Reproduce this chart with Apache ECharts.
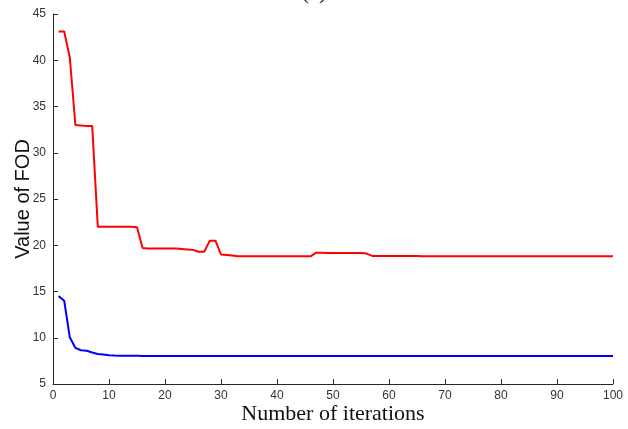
<!DOCTYPE html>
<html>
<head>
<meta charset="utf-8">
<script src="https://cdn.jsdelivr.net/npm/echarts@6/dist/echarts.min.js"></script>
<style>html,body{margin:0;padding:0;background:#fff}#c{width:628px;height:429px}</style>
</head>
<body>
<div id="c"></div>
<script>
const iterations = Array.from({length: 100}, (_, i) => i + 1);
const redValues = [
  43.1, 43.1, 40.3, 33.0, 32.95, 32.9, 32.9, 22.0, 22.0, 22.0,
  22.0, 22.0, 22.0, 22.0, 21.95, 19.7, 19.65, 19.65, 19.65, 19.65,
  19.65, 19.65, 19.6, 19.55, 19.5, 19.3, 19.3, 20.5, 20.5, 19.0,
  18.95, 18.9, 18.8, 18.8, 18.8, 18.8, 18.8, 18.8, 18.8, 18.8,
  18.8, 18.8, 18.8, 18.8, 18.8, 18.8, 19.2, 19.2, 19.15, 19.15,
  19.15, 19.15, 19.15, 19.15, 19.15, 19.1, 18.85, 18.85, 18.85, 18.85,
  18.85, 18.85, 18.85, 18.85, 18.85, 18.8, 18.8, 18.8, 18.8, 18.8,
  18.8, 18.8, 18.8, 18.8, 18.8, 18.8, 18.8, 18.8, 18.8, 18.8,
  18.8, 18.8, 18.8, 18.8, 18.8, 18.8, 18.8, 18.82, 18.82, 18.8,
  18.8, 18.8, 18.8, 18.8, 18.8, 18.8, 18.8, 18.8, 18.8, 18.8
];
const blueValues = [
  14.5, 14.0, 10.05, 8.9, 8.65, 8.6, 8.4, 8.25, 8.2, 8.1,
  8.07, 8.06, 8.05, 8.05, 8.05, 8.04, 8.04, 8.04, 8.04, 8.04,
  8.03, 8.03, 8.03, 8.03, 8.03, 8.03, 8.03, 8.03, 8.03, 8.03,
  8.03, 8.03, 8.03, 8.03, 8.03, 8.03, 8.03, 8.03, 8.03, 8.03,
  8.03, 8.03, 8.03, 8.03, 8.03, 8.03, 8.03, 8.03, 8.03, 8.03,
  8.03, 8.03, 8.03, 8.03, 8.03, 8.03, 8.03, 8.03, 8.03, 8.03,
  8.03, 8.03, 8.03, 8.03, 8.03, 8.03, 8.03, 8.03, 8.03, 8.03,
  8.03, 8.03, 8.03, 8.03, 8.03, 8.03, 8.03, 8.03, 8.03, 8.03,
  8.03, 8.03, 8.03, 8.03, 8.03, 8.03, 8.03, 8.03, 8.03, 8.03,
  8.03, 8.03, 8.03, 8.03, 8.03, 8.03, 8.03, 8.03, 8.03, 8.03
];
const xTicks = [0, 10, 20, 30, 40, 50, 60, 70, 80, 90, 100];
const yTicks = [5, 10, 15, 20, 25, 30, 35, 40, 45];

const chart = echarts.init(document.getElementById('c'), null, {renderer: 'canvas'});
const axisColor = '#262626';
chart.setOption({
  animation: false,
  backgroundColor: '#fff',
  title: {
    text: '(a)', left: 'center', top: -23,
    textStyle: {fontFamily: 'Liberation Serif', fontSize: 22, fontWeight: 'normal', color: '#222'}
  },
  grid: {left: 53, right: 15, top: 14, bottom: 45, containLabel: false, outerBoundsMode: 'none'},
  xAxis: {
    type: 'value', min: 0, max: 100, interval: 10,
    name: 'Number of iterations', nameLocation: 'middle', nameGap: 19, nameMoveOverlap: false,
    nameTextStyle: {fontFamily: 'Liberation Serif', fontSize: 22, color: '#111'},
    axisLine: {show: true, lineStyle: {color: axisColor, width: 1}},
    axisTick: {show: true, inside: true, length: 5, lineStyle: {color: axisColor}},
    axisLabel: {fontFamily: 'Liberation Sans', fontSize: 12, color: '#333', margin: 6},
    splitLine: {show: false}
  },
  yAxis: {
    type: 'value', min: 5, max: 45, interval: 5,
    name: 'Value of FOD', nameLocation: 'middle', nameGap: 20, nameMoveOverlap: false,
    nameTextStyle: {fontFamily: 'Liberation Sans', fontSize: 20, color: '#111'},
    axisLine: {show: true, lineStyle: {color: axisColor, width: 1}},
    axisTick: {show: true, inside: true, length: 5, lineStyle: {color: axisColor}},
    axisLabel: {fontFamily: 'Liberation Sans', fontSize: 12, color: '#333', margin: 7},
    splitLine: {show: false}
  },
  series: [
    {
      type: 'line', data: iterations.map((x, i) => [x, redValues[i]]),
      showSymbol: false, lineStyle: {color: '#ff0000', width: 2}, itemStyle: {color: '#ff0000'}
    },
    {
      type: 'line', data: iterations.map((x, i) => [x, blueValues[i]]),
      showSymbol: false, lineStyle: {color: '#0000ff', width: 2}, itemStyle: {color: '#0000ff'}
    }
  ]
});
</script>
</body>
</html>
